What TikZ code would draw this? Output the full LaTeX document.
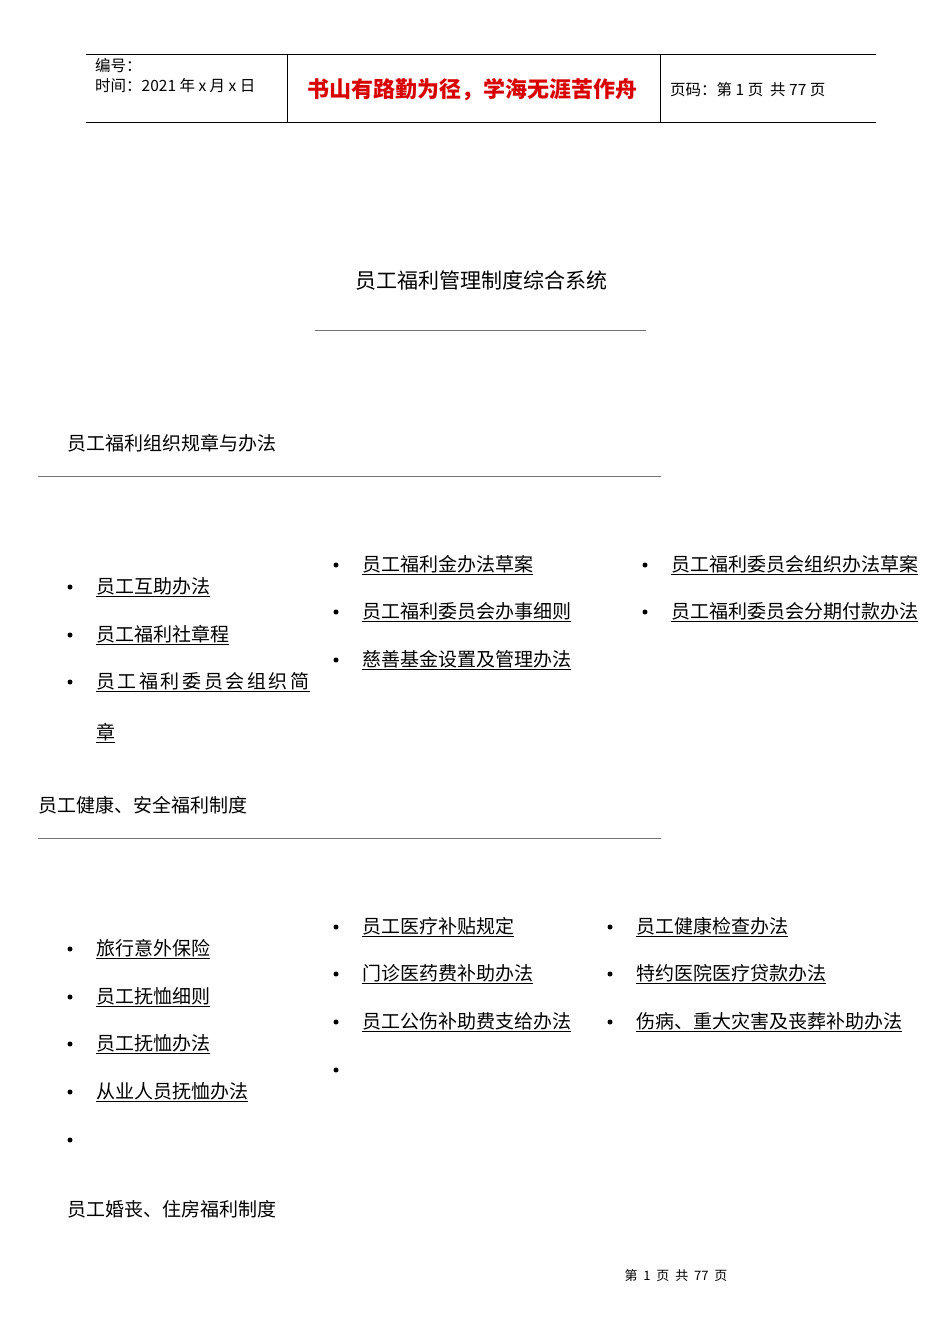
\documentclass[tikz,border=0pt]{standalone}
\usepackage{fontspec}
\setmainfont{Noto Sans CJK SC}
\begin{document}
\begin{tikzpicture}[x=1pt,y=-1pt,
 t/.style={anchor=west,inner sep=0pt,font=\fontsize{19}{19}\selectfont},
 bl/.style={circle,fill=black,inner sep=0pt,minimum size=5pt},
 rule/.style={draw=black!55,line width=0.6pt}]
\useasboundingbox (0,0) rectangle (950,1344);
% header
\draw[line width=0.6pt] (86,54) -- (876,54) (86,122) -- (876,122) (287,54) -- (287,122) (660,54) -- (660,122);
\node[anchor=west,inner sep=0pt,font=\fontsize{15.5}{15}\selectfont] (h1) at (95,66) {编号：};
\node[anchor=west,inner sep=0pt,font=\fontsize{15.5}{15}\selectfont] (h2) at (95,86) {时间：2021 年 x 月 x 日};
\node[anchor=west,inner sep=0pt,font=\fontsize{22}{22}\selectfont\bfseries,text=red!85!black] (h3) at (307,90) {书山有路勤为径，学海无涯苦作舟};
\node[anchor=west,inner sep=0pt,font=\fontsize{15.5}{15}\selectfont] (h4) at (670,90) {页码：第 1 页 \ 共 77 页};
% title
\node[t,anchor=center,font=\fontsize{21}{21}\selectfont] (title) at (481,281) {员工福利管理制度综合系统};
\draw[rule] (315,330) -- (646,330);
% section 1
\node[t] (s1) at (67,443) {员工福利组织规章与办法};
\draw[rule] (38,476) -- (661,476);
\foreach \x/\y/\s [count=\i] in {
 96/587/员工互助办法, 96/635/员工福利社章程,
 362/565/员工福利金办法草案, 362/612/员工福利委员会办事细则, 362/660/慈善基金设置及管理办法,
 671/565/员工福利委员会组织办法草案, 671/612/员工福利委员会分期付款办法}{
 \node[t] (a\i) at (\x,\y) {\underline{\s}};
 \node[bl] (ab\i) at (\x-26,\y) {};
}
\node[t] (a8) at (96,682) {\underline{员\hspace{2.6pt}工\hspace{2.6pt}福\hspace{2.6pt}利\hspace{2.6pt}委\hspace{2.6pt}员\hspace{2.6pt}会\hspace{2.6pt}组\hspace{2.6pt}织\hspace{2.6pt}简}};
\node[bl] (ab8) at (70,682) {};
\node[t] (a9) at (96,733) {\underline{章}};
% section 2
\node[t] (s2) at (38,805) {员工健康、安全福利制度};
\draw[rule] (38,838) -- (661,838);
\foreach \x/\y/\s [count=\i] in {
 96/949/旅行意外保险, 96/997/员工抚恤细则, 96/1044/员工抚恤办法, 96/1092/从业人员抚恤办法,
 362/927/员工医疗补贴规定, 362/974/门诊医药费补助办法, 362/1022/员工公伤补助费支给办法,
 636/927/员工健康检查办法, 636/974/特约医院医疗贷款办法, 636/1022/伤病、重大灾害及丧葬补助办法}{
 \node[t] (b\i) at (\x,\y) {\underline{\s}};
 \node[bl] (bb\i) at (\x-26,\y) {};
}
\node[bl] (e1) at (70,1140) {};
\node[bl] (e2) at (336,1070) {};
% section 3
\node[t] (s3) at (67,1209) {员工婚丧、住房福利制度};
% footer
\node[anchor=center,inner sep=0pt,font=\fontsize{13}{13}\selectfont] (ft) at (676,1276) {第 \ 1 \ 页 \ 共 \ 77 \ 页};
\end{tikzpicture}
\end{document}
